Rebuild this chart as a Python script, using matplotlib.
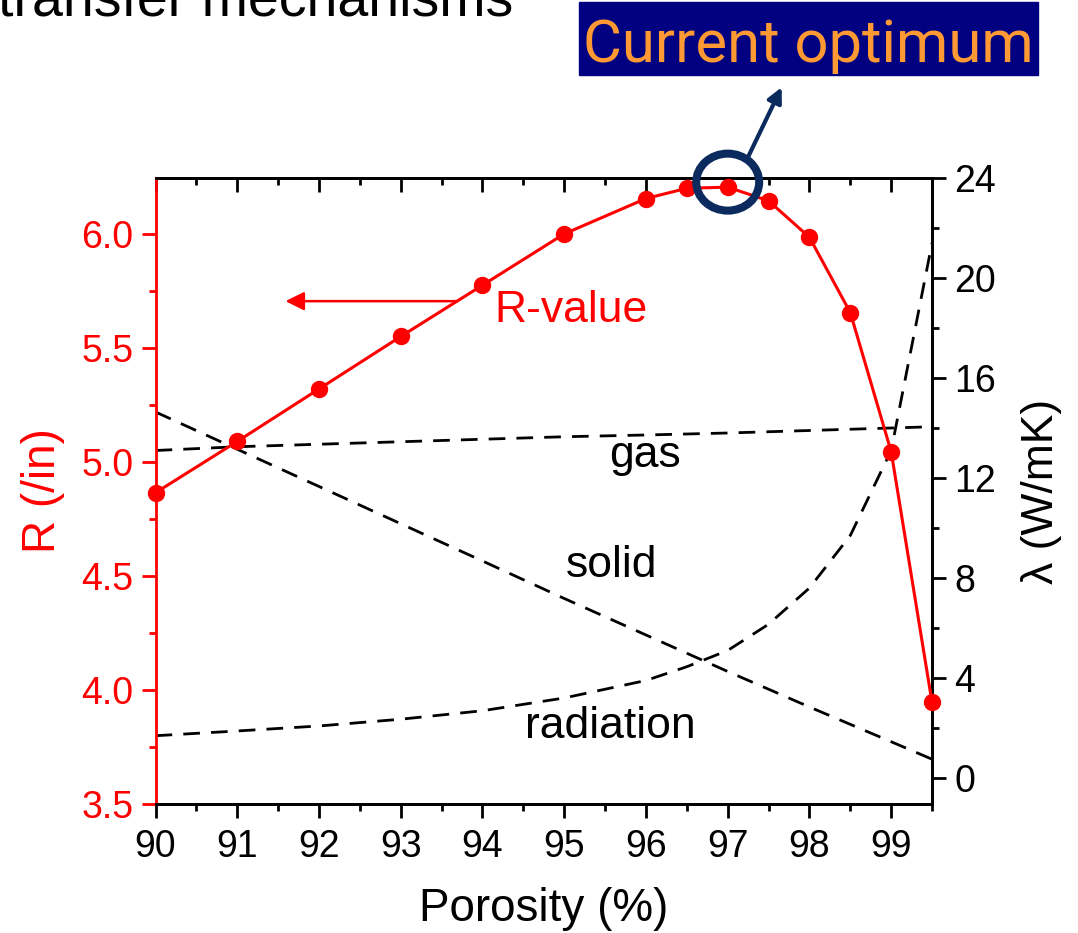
"""
R-value vs porosity with the gas / solid / radiation conductivity contributions
"""

import matplotlib
matplotlib.use("Agg")
import matplotlib.pyplot as plt
from matplotlib.patches import Ellipse, Rectangle
from matplotlib.ticker import MultipleLocator

plt.rcParams['font.family'] = ['Liberation Sans', 'DejaVu Sans']

# R-value curve (left axis)
porosity_r = [90, 91, 92, 93, 94, 95, 96, 96.5, 97, 97.5, 98, 98.5, 99, 99.5]
r_value = [4.865, 5.09, 5.32, 5.55, 5.775, 6.0, 6.155, 6.20, 6.205, 6.145,
           5.985, 5.655, 5.045, 3.945]

# conductivity contributions (right axis, W/mK)
porosity_gas = [90, 91, 92, 93, 94, 95, 96, 97, 98, 99, 99.5]
lam_gas = [13.1, 13.25, 13.35, 13.45, 13.55, 13.65, 13.72, 13.8, 13.9, 14.0, 14.05]

porosity_solid = [90, 91, 92, 93, 94, 95, 96, 97, 98, 99, 99.5]
lam_solid = [14.64, 13.15, 11.66, 10.17, 8.68, 7.18, 5.72, 4.26, 2.84, 1.45, 0.75]

porosity_rad = [90, 91, 92, 93, 94, 95, 96, 96.5, 97, 97.5, 98, 98.5, 99, 99.5]
lam_rad = [1.69, 1.88, 2.08, 2.35, 2.69, 3.2, 3.9, 4.45, 5.1, 6.15, 7.6, 9.7,
           13.1, 21.4]

optimum_x, optimum_r = 97, 6.205

fig = plt.figure(figsize=(10.78, 9.33), dpi=100)
ax = fig.add_axes([0.1443, 0.1383, 0.7203, 0.6709])
ax2 = ax.twinx()

red = '#FF0000'
navy = '#0B2A5E'

ax.plot(porosity_r, r_value, color=red, lw=2.2, marker='o', ms=11.5,
        zorder=5, clip_on=False)

dash = dict(color='black', lw=2.0, dashes=(6, 4))
ax2.plot(porosity_gas, lam_gas, **dash)
ax2.plot(porosity_solid, lam_solid, **dash)
ax2.plot(porosity_rad, lam_rad, **dash)

ax.set_xlim(90, 99.5)
ax.set_ylim(3.5, 6.245)
ax2.set_ylim(-1.04, 24)

ax.xaxis.set_major_locator(MultipleLocator(1))
ax.xaxis.set_minor_locator(MultipleLocator(0.5))
ax.yaxis.set_major_locator(MultipleLocator(0.5))
ax.yaxis.set_minor_locator(MultipleLocator(0.25))
ax2.yaxis.set_major_locator(MultipleLocator(4))
ax2.yaxis.set_minor_locator(MultipleLocator(2))

ax.tick_params(axis='x', which='both', top=True, direction='out',
               labelsize=27, width=2, pad=8)
ax.tick_params(axis='x', which='major', length=10)
ax.tick_params(axis='x', which='minor', length=5)
ax.tick_params(axis='y', which='both', direction='out', colors=red,
               labelsize=27, width=2, pad=6)
ax.tick_params(axis='y', which='major', length=10)
ax.tick_params(axis='y', which='minor', length=5)
ax2.tick_params(axis='y', which='both', direction='out', labelsize=27,
                width=2, pad=6)
ax2.tick_params(axis='y', which='major', length=10)
ax2.tick_params(axis='y', which='minor', length=5)

# top ticks of the frame point inwards
for t in ax.xaxis.get_major_ticks() + ax.xaxis.get_minor_ticks():
    t.tick2line.set_marker(3)

for side in ['top', 'bottom', 'right']:
    ax.spines[side].set_linewidth(2)
    ax2.spines[side].set_linewidth(2)
ax.spines['left'].set_color(red)
ax.spines['left'].set_linewidth(2)
ax2.spines['left'].set_visible(False)

ax.set_xlabel('Porosity (%)', fontsize=33, labelpad=16)
ax.set_ylabel('R (/in)', fontsize=33, color=red, labelpad=12)
ax2.set_ylabel('λ (W/mK)', fontsize=32, labelpad=18)

# curve labels
ax2.text(95.99, 12.9, 'gas', fontsize=32, ha='center', va='center')
ax2.text(95.58, 8.5, 'solid', fontsize=32, ha='center', va='center')
ax2.text(95.56, 2.05, 'radiation', fontsize=32, ha='center', va='center')

ax.text(94.15, 5.613, 'R-value', fontsize=32, color=red, ha='left',
        va='baseline')
ax.annotate('', xy=(91.59, 5.705), xytext=(93.69, 5.705),
            arrowprops=dict(arrowstyle='-|>', color=red, lw=1.8,
                            mutation_scale=28, shrinkA=0, shrinkB=0))

# mark the optimum
ax.set_zorder(ax2.get_zorder() + 1)
ax.patch.set_visible(False)
ring = Ellipse((optimum_x, optimum_r + 0.022), 0.77, 0.25, fill=False,
               ec=navy, lw=5.8, zorder=10, clip_on=False)
ax.add_patch(ring)
ax.annotate('', xy=(97.66, 6.643), xytext=(97.23, 6.323),
            arrowprops=dict(arrowstyle='-|>', color=navy, lw=3,
                            mutation_scale=22, shrinkA=0, shrinkB=0),
            annotation_clip=False, zorder=10)

fig.patches.append(Rectangle((579 / 1078, 1 - 75 / 933), 459 / 1078, 73 / 933,
                             transform=fig.transFigure, color='#000080',
                             zorder=0))
fig.text(808 / 1078, 1 - 62 / 933, 'Current optimum', fontsize=43,
         family='Roboto', color='#FF9933', ha='center', va='baseline')

# slide title running off the top edge
fig.text(-2 / 1078, 1 - 15 / 933, 'transfer mechanisms', fontsize=40,
         ha='left', va='baseline')

fig.savefig('out.png', dpi=100)
